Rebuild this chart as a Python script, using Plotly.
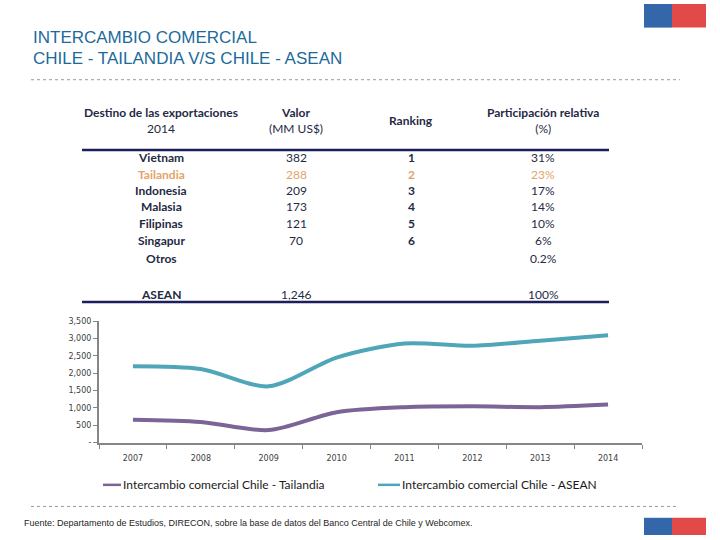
import plotly.graph_objects as go

# datos del grafico
years = ["2007", "2008", "2009", "2010", "2011", "2012", "2013", "2014"]
tailandia = [660, 595, 360, 875, 1020, 1045, 1020, 1095]
asean = [2200, 2120, 1620, 2450, 2855, 2790, 2935, 3090]

# datos de la tabla
destinos = ["Vietnam", "Tailandia", "Indonesia", "Malasia", "Filipinas", "Singapur", "Otros"]
valores = ["382", "288", "209", "173", "121", "70", ""]
ranking = ["1", "2", "3", "4", "5", "6", ""]
participacion = ["31%", "23%", "17%", "14%", "10%", "6%", "0.2%"]
total = ["ASEAN", "1,246", "", "100%"]

W, H = 720, 540
NAVY = "#1f2a44"
ORANGE = "#e4a36a"
TEAL = "#4fa6b9"
PURPLE = "#7b6496"
TFONT = "Lato"


def px_x(x):
    return x / W


def px_y(y):
    return 1 - y / H


fig = go.Figure()

fig.add_trace(go.Scatter(x=years, y=tailandia, mode="lines", name="Intercambio comercial Chile - Tailandia",
                         line=dict(color=PURPLE, width=4, shape="spline", smoothing=0.8)))
fig.add_trace(go.Scatter(x=years, y=asean, mode="lines", name="Intercambio comercial Chile - ASEAN",
                         line=dict(color=TEAL, width=4, shape="spline", smoothing=0.8)))

ytv = [0, 500, 1000, 1500, 2000, 2500, 3000, 3500]
ytt = ["-", "500", "1,000", "1,500", "2,000", "2,500", "3,000", "3,500"]

fig.update_layout(
    width=W, height=H, margin=dict(l=0, r=0, t=0, b=0),
    paper_bgcolor="white", plot_bgcolor="white", showlegend=False,
    xaxis=dict(domain=[px_x(99), px_x(642)], type="category", range=[-0.5, 7.5],
               tickson="boundaries", ticks="outside", ticklen=4, tickcolor="#868686",
               showline=True, linecolor="#868686", linewidth=2, showgrid=False,
               ticklabelstandoff=7,
               tickfont=dict(family="DejaVu Sans", size=8, color="#404040")),
    yaxis=dict(domain=[px_y(446), px_y(322.5)], range=[0, 3500], tickvals=ytv, ticktext=ytt,
               ticks="outside", ticklen=4, tickcolor="#868686",
               showline=True, linecolor="#868686", linewidth=2, showgrid=False, zeroline=False,
               tickfont=dict(family="DejaVu Sans", size=8, color="#404040")),
)

ann = []
shapes = []

# titulo
ann.append(dict(x=px_x(31), y=px_y(34), text="INTERCAMBIO COMERCIAL", xanchor="left", yanchor="middle",
                font=dict(family="Liberation Sans", size=17, color="#1d6a9a")))
ann.append(dict(x=px_x(31), y=px_y(55), text="CHILE - TAILANDIA V/S CHILE - ASEAN", xanchor="left",
                yanchor="middle", font=dict(family="Liberation Sans", size=17, color="#1d6a9a")))
shapes.append(dict(type="line", xref="paper", yref="paper", x0=px_x(31), x1=px_x(680), y0=px_y(77), y1=px_y(77),
                   line=dict(color="#9a9a9a", width=1, dash="dot")))
shapes.append(dict(type="line", xref="paper", yref="paper", x0=px_x(31), x1=px_x(676), y0=px_y(511), y1=px_y(511),
                   line=dict(color="#9a9a9a", width=1, dash="dot")))

# banderas
for y0, y1 in [(0, 24), (522.5, 540)]:
    shapes.append(dict(type="rect", xref="paper", yref="paper", x0=px_x(644), x1=px_x(672), y0=px_y(y1), y1=px_y(y0),
                       fillcolor="#3467a9", line=dict(width=0)))
    shapes.append(dict(type="rect", xref="paper", yref="paper", x0=px_x(672), x1=px_x(706), y0=px_y(y1), y1=px_y(y0),
                       fillcolor="#e24a4a", line=dict(width=0)))

# tabla
cols = [161, 296, 411, 543]
headers = ["<b>Destino de las exportaciones</b><br>2014", "<b>Valor</b><br>(MM US$)",
           "<b>Ranking</b>", "<b>Participación relativa</b><br>(%)"]
for cx, txt in zip(cols, headers):
    ann.append(dict(x=px_x(cx), y=px_y(118), text=txt, xanchor="center", yanchor="middle", align="center",
                    font=dict(family=TFONT, size=12, color=NAVY)))

row_y = [156, 173, 190, 206, 223, 240, 259]
for i, yy in enumerate(row_y):
    c = ORANGE if destinos[i] == "Tailandia" else NAVY
    for j, (cx, txt) in enumerate(zip(cols, [destinos[i], valores[i], ranking[i], participacion[i]])):
        if txt:
            if j in (0, 2):
                txt = "<b>" + txt + "</b>"
            ann.append(dict(x=px_x(cx), y=px_y(yy), text=txt, xanchor="center", yanchor="middle",
                            font=dict(family=TFONT, size=12, color=c)))
for j, (cx, txt) in enumerate(zip(cols, total)):
    if txt:
        if j == 0:
            txt = "<b>" + txt + "</b>"
        ann.append(dict(x=px_x(cx), y=px_y(295), text=txt, xanchor="center", yanchor="middle",
                        font=dict(family=TFONT, size=12, color=NAVY)))

for yy in [148.5, 303]:
    shapes.append(dict(type="line", xref="paper", yref="paper", x0=px_x(82), x1=px_x(609), y0=px_y(yy), y1=px_y(yy),
                       line=dict(color="#1c1f5e", width=2.5)))

# leyenda
for x0, x1, col, txt in [(103, 121, PURPLE, "Intercambio comercial Chile - Tailandia"),
                         (378, 400, TEAL, "Intercambio comercial Chile - ASEAN")]:
    shapes.append(dict(type="line", xref="paper", yref="paper", x0=px_x(x0), x1=px_x(x1), y0=px_y(489), y1=px_y(489),
                       line=dict(color=col, width=2.5)))
    ann.append(dict(x=px_x(x1), y=px_y(489), text=txt, xanchor="left", yanchor="middle",
                    font=dict(family=TFONT, size=12, color="#1a1a1a")))

# fuente
ann.append(dict(x=px_x(22), y=px_y(528), text="Fuente: Departamento de Estudios, DIRECON, sobre la base de datos del Banco Central de Chile y Webcomex.",
                xanchor="left", yanchor="middle", font=dict(family="Liberation Sans", size=9, color="#262626")))

for a in ann:
    a.update(xref="paper", yref="paper", showarrow=False)

fig.update_layout(annotations=ann, shapes=shapes)

# quitar el margen del body para que la figura quede en (0, 0)
fig.write_html("out.html", config={"displayModeBar": False},
               post_script="document.body.style.margin='0px';")
